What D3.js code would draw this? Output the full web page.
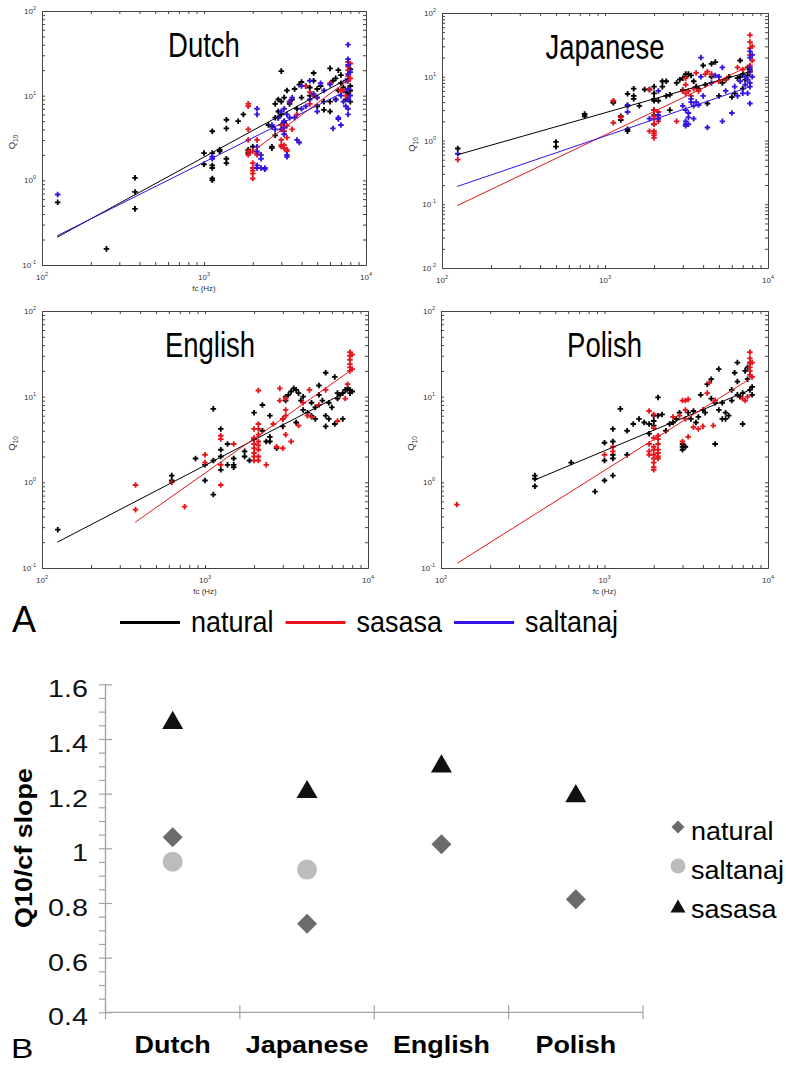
<!DOCTYPE html>
<html>
<head>
<meta charset="utf-8">
<script src="https://cdn.jsdelivr.net/npm/d3@7.9.0/dist/d3.min.js"></script>
<style>
  body { margin: 0; background: #fff; }
  svg { display: block; font-family: "Liberation Sans", Arial, sans-serif; }
</style>
</head>
<body>
<svg id="fig" width="786" height="1065"></svg>
<script>
// ---------- panel A data: [fc (Hz), Q10]
const dutchNatural = [[125,0.55],[250,0.155],[375,1.07],[375,0.73],[375,0.46],
  [1000,2.1],[1000,1.55],[1125,3.8],[1125,2.1],[1125,1.5],[1125,1.4],[1125,1.05],[1125,1.0],[1250,2.2],[1250,2.3],
  [1375,5.2],[1375,4.1],[1375,1.8],[1375,1.6],[1625,5.0],[1750,6.0],[1875,2.3],[1875,2.1],[2000,2.5],
  [2500,4.5],[2625,4.3],[2625,2.5],[2625,2.4],[2750,5.5],[2750,8.0],[2750,3.4],[2875,6.5],[2875,5.5],[2875,9.0],
  [3000,19.5],[3000,8.5],[3000,6.0],[3125,9.5],[3125,4.8],[3250,11.5],[3375,8.0],[3500,9.0],[3625,12.0],[3750,7.0],
  [3875,13.5],[4000,14.5],[4000,9.5],[4250,13.0],[4500,10.0],[4500,12.5],[4750,18.5],[4750,15.0],[5000,12.0],[5000,7.5],
  [5250,13.0],[5500,8.5],[5500,6.8],[6000,21.0],[6000,8.5],[6000,6.5],[6250,15.0],[6500,16.0],[6500,9.0],[6750,20.0],
  [6750,11.5],[7000,17.5],[7000,14.0],[7250,12.5],[7500,9.0],[7500,11.0],[7750,15.0],[7750,10.5],[8000,20.5],[8000,8.5],
  [8000,11.5],[8000,13.0]];
const dutchSaltanaj = [[125,0.68],[1125,1.9],[1125,1.8],[2125,7.0],[2125,6.0],[2125,2.5],[2125,2.2],[2125,1.5],[2125,1.4],
  [2250,2.0],[2250,1.8],[2250,1.4],[2375,1.35],[2375,1.4],[2625,4.5],[2750,4.0],[2875,5.5],[3000,6.5],[3000,4.0],
  [3125,7.0],[3125,5.0],[3125,4.2],[3125,3.5],[3250,1.9],[3250,2.0],[3250,6.0],[3375,5.5],[3375,8.5],[3500,9.5],
  [3625,5.5],[3750,3.0],[3875,2.8],[4000,7.0],[4000,13.0],[4250,7.5],[4500,15.0],[4500,9.0],[4750,10.5],[5000,9.5],
  [5000,6.5],[5250,14.0],[5500,11.5],[6000,13.5],[6250,4.1],[6500,9.0],[6750,5.5],[6750,5.3],[7000,4.5],[7000,10.0],
  [7250,8.5],[7500,15.0],[7500,7.5],[7750,40.0],[7750,27.0],[7750,23.0],[7750,18.0],[7750,12.0],[7750,9.0],[7750,7.0],
  [7750,6.0],[8000,19.0],[8000,10.0]];
const dutchSasasa = [[1875,8.0],[1875,7.5],[1875,4.0],[1875,3.0],[1875,2.2],[1875,2.0],[2000,1.6],[2000,1.4],[2000,1.3],
  [2000,1.2],[2000,1.05],[2000,2.2],[2125,2.1],[2125,2.0],[2125,3.0],[3000,2.6],[3000,2.5],[3000,4.0],[3000,4.5],
  [3000,3.0],[3125,2.6],[3125,2.4],[3125,3.8],[3125,4.2],[3125,5.0],[3250,2.3],[3250,2.2],[3250,3.2],[3250,4.4],
  [3375,8.5],[3500,4.0],[3750,6.0],[4250,13.0],[4500,8.0],[4500,11.0],[4750,10.0],[5000,9.5],[6000,14.0],[7000,11.5],
  [7250,11.5],[7500,10.0],[7750,25.0],[7750,22.0],[7750,20.0],[7750,17.0],[7750,15.0],[7750,12.0],[7750,9.5],
  [8000,24.0],[8000,16.0]];

const japaneseNatural = [[125,0.75],[500,0.95],[500,0.8],[750,2.6],[750,2.4],[1125,3.9],[1125,4.1],[1250,2.1],[1250,2.4],
  [1375,5.4],[1375,3.5],[1375,1.5],[1375,1.4],[1500,6.5],[1500,5.0],[1500,4.5],[1625,3.5],[1750,6.3],[1875,6.3],
  [2000,7.0],[2000,5.5],[2000,4.5],[2000,4.2],[2000,3.0],[2000,2.5],[2000,1.8],[2125,4.2],[2250,8.5],[2250,7.0],
  [2375,8.5],[2375,5.0],[2500,5.2],[2500,3.0],[2750,8.0],[2875,9.0],[3000,9.5],[3000,6.2],[3125,10.0],[3125,11.0],
  [3250,11.0],[3375,10.5],[3500,8.5],[3625,7.0],[3750,6.5],[4000,15.0],[4125,7.5],[4250,3.8],[4500,16.0],[4500,10.0],
  [4750,17.0],[5000,5.0],[5250,8.0],[5500,9.0],[5750,10.0],[6000,4.8],[6250,5.5],[6500,9.5],[6750,18.0],[6750,10.0],
  [7000,6.5],[7000,11.0],[7250,9.0],[7500,14.0],[7500,10.5],[7750,12.0],[7750,13.0]];
const japaneseSaltanaj = [[125,0.62],[1375,3.6],[1375,2.8],[1875,2.2],[2125,6.0],[2125,2.5],[2125,2.2],[3000,3.5],
  [3125,3.0],[3125,2.0],[3125,1.8],[3125,1.7],[3250,1.8],[3250,2.3],[3250,2.7],[3375,4.5],[3375,4.0],[3500,3.5],
  [3500,2.2],[3625,4.0],[3750,3.6],[3875,20.0],[3875,10.0],[4000,5.0],[4250,1.6],[4500,8.0],[4750,10.5],[5000,10.0],
  [5250,14.0],[5250,2.0],[5500,6.0],[6000,2.7],[6250,7.0],[6500,5.0],[6750,8.5],[7000,5.5],[7250,7.5],[7250,10.0],
  [7500,5.5],[7500,9.0],[7750,3.8],[7750,25.0],[7750,20.0],[7750,14.0],[7750,12.0],[7750,8.0],[7750,7.0],
  [8000,22.0],[8000,10.0]];
const japaneseSasasa = [[125,0.5],[1125,4.2],[1125,1.9],[1250,2.3],[1875,6.3],[1875,1.4],[2000,3.0],[2000,2.4],
  [2000,2.2],[2000,1.8],[2000,1.4],[2000,1.3],[2000,1.2],[2000,1.1],[2125,2.0],[2125,2.2],[2125,2.8],[2750,2.0],
  [3000,6.0],[3125,5.5],[3125,7.5],[3125,9.5],[3250,6.0],[3375,5.0],[3500,6.5],[3625,11.5],[3750,6.0],[4125,11.0],
  [4250,12.0],[4500,11.0],[5000,8.5],[5500,9.0],[6500,14.0],[7000,13.0],[7750,45.0],[7750,35.0],[7750,28.0],
  [7750,22.0],[7750,15.0],[7750,12.0],[8000,30.0],[8000,18.0]];

const englishNatural = [[125,0.28],[625,1.2],[625,1.05],[875,1.9],[1000,1.05],[1000,1.6],[1125,7.2],[1125,1.8],
  [1125,0.72],[1250,4.2],[1250,2.4],[1250,2.0],[1250,1.4],[1375,2.8],[1375,1.6],[1500,1.9],[1500,1.6],[1500,1.5],
  [1750,2.3],[1750,2.0],[1875,1.8],[2000,6.5],[2000,3.2],[2250,8.0],[2250,4.0],[2375,3.0],[2500,6.0],[2500,3.4],
  [2500,3.0],[2750,2.5],[3000,4.5],[3000,5.5],[3125,10.0],[3125,9.0],[3250,10.5],[3375,11.5],[3500,12.5],[3625,12.0],
  [3625,5.0],[3750,11.0],[3875,9.0],[4000,10.0],[4000,7.0],[4250,6.5],[4500,8.5],[4500,6.0],[4750,7.5],[4750,5.5],
  [5000,13.5],[5000,10.5],[5250,9.0],[5500,4.5],[5500,6.0],[5500,19.0],[5750,5.5],[5750,8.5],[6000,7.5],[6250,4.8],
  [6250,17.0],[6500,11.0],[6500,9.5],[6750,10.5],[7000,5.5],[7000,11.0],[7250,12.0],[7500,12.5],[7750,11.0],
  [7750,12.0],[8000,11.5]];
const englishSasasa = [[375,0.93],[375,0.48],[625,1.0],[750,0.52],[1000,2.1],[1000,1.7],[1250,3.5],[1250,3.2],
  [1250,1.6],[1250,0.93],[1500,2.8],[2000,4.2],[2000,3.3],[2000,2.8],[2000,2.5],[2000,2.2],[2000,2.0],[2000,1.8],
  [2125,11.8],[2125,4.8],[2125,4.2],[2125,3.6],[2125,3.0],[2125,2.7],[2125,2.4],[2125,2.0],[2125,1.8],[2375,1.6],
  [2625,4.8],[2750,2.6],[2875,12.5],[2875,9.0],[3000,5.5],[3000,2.5],[3125,9.5],[3125,7.0],[3125,6.0],[3125,3.6],
  [3375,3.0],[3750,4.6],[4000,8.5],[4250,6.0],[4375,12.0],[4500,5.8],[5000,8.0],[5500,12.0],[6500,5.2],[7250,9.5],
  [7500,14.0],[7750,33.0],[7750,30.0],[7750,27.0],[7750,24.0],[7750,22.0],[7750,20.0],[8000,31.0],[8000,21.0]];

const polishNatural = [[375,1.2],[375,1.1],[375,0.9],[625,1.7],[875,0.78],[1000,2.9],[1000,1.8],[1000,1.05],
  [1125,4.2],[1125,3.0],[1125,2.1],[1125,1.9],[1125,1.2],[1250,7.2],[1375,4.0],[1375,2.1],[1500,4.8],[1625,5.5],
  [1750,5.0],[1875,3.7],[1875,4.8],[2000,6.0],[2000,5.2],[2000,4.6],[2125,9.8],[2125,6.0],[2250,6.2],[2375,4.0],
  [2500,4.8],[2625,5.0],[2750,5.5],[2875,6.5],[3000,2.8],[3000,2.6],[3000,2.4],[3125,2.6],[3250,6.5],[3375,5.5],
  [3500,6.8],[3625,5.0],[3750,5.8],[3875,10.5],[4000,7.0],[4125,6.5],[4250,14.0],[4500,16.0],[4500,9.5],[4750,2.8],
  [4750,8.5],[5000,21.0],[5000,7.0],[5250,5.5],[5250,8.5],[5500,6.5],[5500,5.5],[5750,6.0],[6000,9.0],[6000,12.0],
  [6250,19.0],[6500,25.0],[6500,15.0],[6500,10.5],[6750,10.0],[7000,11.0],[7000,4.8],[7250,20.0],[7500,22.0],
  [7500,16.0],[7750,12.0],[7750,25.0],[8000,10.5],[8000,13.0]];
const polishSasasa = [[125,0.55],[1000,2.1],[1125,2.6],[1125,2.3],[1875,6.8],[1875,2.8],[1875,2.3],[1875,2.1],
  [2000,6.2],[2000,4.3],[2000,3.3],[2000,2.6],[2000,2.4],[2000,2.1],[2000,1.9],[2000,1.7],[2000,1.5],[2000,1.4],
  [2125,3.5],[2125,3.2],[2125,2.8],[2125,2.4],[2125,2.2],[2125,2.0],[2125,1.9],[2625,5.8],[2875,6.0],[3000,9.0],
  [3000,3.0],[3125,9.0],[3125,7.0],[3125,5.5],[3250,9.3],[3250,3.4],[3500,4.4],[3750,4.2],[4000,4.5],[4250,11.0],
  [4375,14.5],[4625,4.6],[4750,9.0],[7000,9.5],[7250,9.0],[7500,10.0],[7750,33.0],[7750,28.0],[7750,25.0],
  [7750,22.0],[7750,20.0],[7750,18.0],[8000,17.0],[8000,25.0]];

// regression lines: [series, fc start, Q10 start, fc end, Q10 end]
const dutchFits = [['natural',124,0.213,7780,16.0],['sasasa',1833,1.94,7780,15.3],['saltanaj',124,0.221,7780,11.7]];
const japaneseFits = [['natural',124,0.596,7780,12.1],['sasasa',124,0.095,7780,15.0],['saltanaj',124,0.19,7780,7.0]];
const englishFits = [['natural',124,0.2,7780,12.0],['sasasa',373,0.342,7780,20.0]];
const polishFits = [['natural',376,1.07,7780,12.0],['sasasa',126,0.114,7780,16.2]];

// ---------- panel B data
const languages = ['Dutch', 'Japanese', 'English', 'Polish'];
const slopeNatural = [1.04, 0.724, 1.015, 0.814];
const slopeSaltanaj = [0.951, 0.922, null, null];
const slopeSasasa = [1.47, 1.217, 1.311, 1.202];
const slopeTicks = [0.4, 0.6, 0.8, 1, 1.2, 1.4, 1.6];

const svg = d3.select('#fig');
const lineColors = { natural: '#000000', sasasa: '#e8141c', saltanaj: '#3412e6' };

const panels = [
  { name: 'Dutch', x0: 42, x1: 366, y0: 11, y1: 265, yMin: 0.1, fcLabel: true, fits: dutchFits,
    series: [['natural', dutchNatural], ['sasasa', dutchSasasa], ['saltanaj', dutchSaltanaj]] },
  { name: 'Japanese', x0: 442, x1: 768, y0: 13, y1: 268, yMin: 0.01, fcLabel: false, fits: japaneseFits,
    series: [['natural', japaneseNatural], ['sasasa', japaneseSasasa], ['saltanaj', japaneseSaltanaj]] },
  { name: 'English', x0: 42, x1: 368, y0: 311, y1: 568, yMin: 0.1, fcLabel: true, fits: englishFits, titleDx: 5,
    series: [['natural', englishNatural], ['sasasa', englishSasasa]] },
  { name: 'Polish', x0: 441, x1: 768, y0: 311, y1: 568, yMin: 0.1, fcLabel: true, fits: polishFits,
    series: [['natural', polishNatural], ['sasasa', polishSasasa]] }
];

const isDecade = v => Math.abs(Math.log10(v) - Math.round(Math.log10(v))) < 1e-9;
function powLabel(sel) {
  sel.append('tspan').text('10');
  sel.append('tspan').attr('dy', -4).attr('font-size', 5.5).text(d => Math.round(Math.log10(d)));
}

panels.forEach(p => {
  const x = d3.scaleLog().domain([100, 10000]).range([p.x0, p.x1]);
  const y = d3.scaleLog().domain([p.yMin, 100]).range([p.y1, p.y0]);
  const g = svg.append('g');

  // points
  p.series.forEach(([key, pts]) => {
    g.append('g').selectAll('path').data(pts).join('path')
      .attr('d', d3.symbol(d3.symbolCross, 17))
      .attr('transform', d => `translate(${x(d[0])},${y(d[1])})`)
      .attr('fill', lineColors[key]);
  });

  // fitted lines
  g.append('g').selectAll('line').data(p.fits).join('line')
    .attr('x1', d => x(d[1])).attr('y1', d => y(d[2]))
    .attr('x2', d => x(d[3])).attr('y2', d => y(d[4]))
    .attr('stroke', d => lineColors[d[0]]).attr('stroke-width', 1);

  // box with inward ticks
  const ax = g.append('g').attr('class', 'frame');
  ax.append('g').attr('transform', `translate(0,${p.y1})`)
    .call(d3.axisBottom(x).tickValues(x.ticks()).tickSize(-3).tickSizeOuter(0).tickFormat(''));
  ax.append('g').attr('transform', `translate(0,${p.y0})`)
    .call(d3.axisTop(x).tickValues(x.ticks()).tickSize(-3).tickSizeOuter(0).tickFormat(''));
  ax.append('g').attr('transform', `translate(${p.x0},0)`)
    .call(d3.axisLeft(y).tickValues(y.ticks()).tickSize(-3).tickSizeOuter(0).tickFormat(''));
  ax.append('g').attr('transform', `translate(${p.x1},0)`)
    .call(d3.axisRight(y).tickValues(y.ticks()).tickSize(-3).tickSizeOuter(0).tickFormat(''));
  ax.selectAll('path, line').attr('stroke', '#444');

  // tick labels
  g.append('g').selectAll('text').data(x.ticks().filter(isDecade)).join('text')
    .attr('x', d => x(d)).attr('y', p.y1 + 15)
    .attr('text-anchor', 'middle').attr('font-size', 8).attr('fill', '#333')
    .call(powLabel);
  g.append('g').selectAll('text').data(y.ticks().filter(isDecade)).join('text')
    .attr('x', p.x0 - 6).attr('y', d => y(d) + 3)
    .attr('text-anchor', 'end').attr('font-size', 8).attr('fill', '#333')
    .call(powLabel);

  // axis titles
  if (p.fcLabel) {
    g.append('text').attr('x', (p.x0 + p.x1) / 2).attr('y', p.y1 + 26)
      .attr('text-anchor', 'middle').attr('font-size', 8).attr('fill', '#333').text('fc (Hz)');
  }
  const ql = g.append('text')
    .attr('transform', `translate(${p.x0 - 27},${(p.y0 + p.y1) / 2 + 4}) rotate(-90)`)
    .attr('text-anchor', 'middle').attr('font-size', 9.5).attr('fill', '#333');
  ql.append('tspan').text('Q');
  ql.append('tspan').attr('dy', 2.5).attr('font-size', 6.5).text('10');

  g.append('text')
    .attr('transform', `translate(${(p.x0 + p.x1) / 2 + (p.titleDx || 0)},${p.y0 + 46}) scale(1,1.27)`)
    .attr('text-anchor', 'middle').attr('font-size', 27.5).text(p.name);
});

// ---------- legend for A
svg.append('text').attr('x', 12).attr('y', 632).attr('font-size', 36).text('A');
const legA = svg.append('g');
let lx = 120;
['natural', 'sasasa', 'saltanaj'].forEach(k => {
  legA.append('line').attr('x1', lx).attr('x2', lx + 60).attr('y1', 622.5).attr('y2', 622.5)
    .attr('stroke', lineColors[k]).attr('stroke-width', 3);
  const t = legA.append('text')
    .attr('transform', `translate(${lx + 71},631.7) scale(1,1.08)`)
    .attr('font-size', 27).text(k);
  lx += 60 + 11 + t.node().getComputedTextLength() + 12;
});

// ---------- panel B
const bx = d3.scaleBand().domain(languages).range([105.5, 643]);
const by = d3.scaleLinear().domain([0.4, 1.6]).range([1012.3, 684.3]);
const gb = svg.append('g');
const axB = gb.append('g');
axB.append('g').attr('transform', 'translate(105,0)')
  .call(d3.axisLeft(by).ticks(24).tickSize(6).tickSizeOuter(0).tickFormat(''));
axB.append('g').attr('transform', 'translate(105,0)')
  .call(d3.axisRight(by).tickValues(slopeTicks).tickSize(7).tickSizeOuter(0).tickFormat(''));
const bounds = languages.map(l => bx(l)).concat(bx.range()[1]);
axB.append('line').attr('x1', bx.range()[0]).attr('x2', bx.range()[1])
  .attr('y1', by(0.4)).attr('y2', by(0.4));
axB.selectAll(null).data(bounds).join('line')
  .attr('x1', d => d).attr('x2', d => d).attr('y1', by(0.4) - 7).attr('y2', by(0.4) + 7);
axB.selectAll('path, line').attr('stroke', '#a3a3a3').attr('stroke-width', 1.2);

gb.append('g').selectAll('text').data(slopeTicks).join('text')
  .attr('transform', d => `translate(88,${by(d) + 13}) scale(1.25,1)`)
  .attr('text-anchor', 'end').attr('font-size', 23).attr('fill', '#111')
  .text(d => d3.format('~g')(d));
gb.append('g').selectAll('text').data(languages).join('text')
  .attr('transform', d => `translate(${bx(d) + bx.bandwidth() / 2},1053) scale(1.17,1)`)
  .attr('text-anchor', 'middle').attr('font-size', 23).attr('font-weight', 'bold').text(d => d);
gb.append('text').attr('transform', 'translate(32,848) rotate(-90) scale(1.12,1)')
  .attr('text-anchor', 'middle').attr('font-size', 24).attr('font-weight', 'bold').text('Q10/cf slope');
gb.append('text').attr('transform', 'translate(11,1058) scale(1.2,1)').attr('font-size', 28).text('B');

const markerColors = { natural: '#6b6b6b', saltanaj: '#bcbcbc', sasasa: '#111111' };
// triangle offset so that its bounding box is centred on the value
const triShift = s => Math.sqrt(s / (Math.sqrt(3) * 3)) / 2;
function marker(sel, key, big) {
  if (key === 'natural') {
    sel.attr('d', d3.symbol(d3.symbolSquare, big ? 200 : 85));
  } else if (key === 'saltanaj') {
    sel.attr('d', d3.symbol(d3.symbolCircle, big ? 314 : 177));
  } else {
    sel.attr('d', d3.symbol(d3.symbolTriangle, big ? 191 : 97));
  }
  sel.attr('fill', markerColors[key]);
}
const symSize = { natural: 200, saltanaj: 314, sasasa: 191 };
[['natural', slopeNatural], ['saltanaj', slopeSaltanaj], ['sasasa', slopeSasasa]].forEach(([key, vals]) => {
  const pts = languages.map((l, i) => [l, vals[i]]).filter(d => d[1] != null);
  gb.append('g').selectAll('path').data(pts).join('path')
    .call(marker, key, true)
    .attr('transform', d => {
      const cx = bx(d[0]) + bx.bandwidth() / 2;
      const cy = by(d[1]) + (key === 'sasasa' ? triShift(symSize.sasasa) : 0);
      return `translate(${cx},${cy})` + (key === 'natural' ? ' rotate(45)' : '');
    });
});

// legend for B
const legB = [['natural', 827, 840], ['saltanaj', 866, 878.5], ['sasasa', 906, 917.5]];
legB.forEach(([key, my, ty]) => {
  const shift = key === 'sasasa' ? triShift(97) : 0;
  gb.append('path').call(marker, key, false)
    .attr('transform', `translate(678,${my + shift})` + (key === 'natural' ? ' rotate(45)' : ''));
  gb.append('text').attr('transform', `translate(691,${ty}) scale(1.08,1)`)
    .attr('font-size', 25).text(key);
});
</script>
</body>
</html>
